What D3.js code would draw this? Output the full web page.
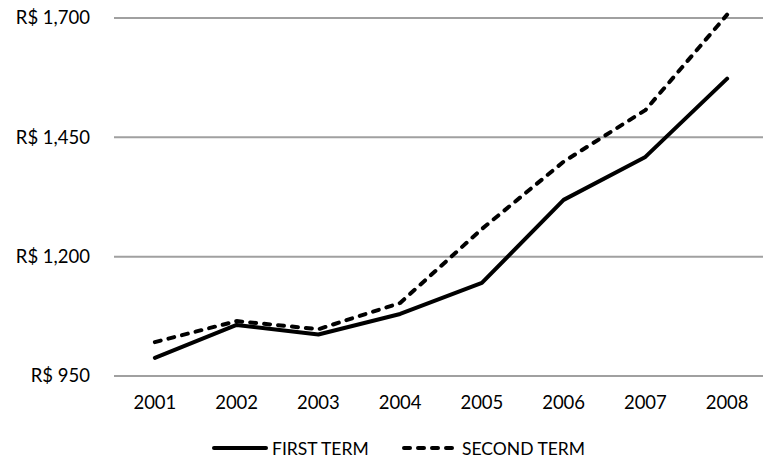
<!DOCTYPE html>
<html><head><meta charset="utf-8">
<script src="https://cdn.jsdelivr.net/npm/d3@7"></script>
<style>body{margin:0;background:#fff;} svg{display:block;font-family:Lato, "Open Sans", sans-serif;}</style>
</head><body>
<svg id="c" width="763" height="464"></svg>
<script>
const years = ["2001","2002","2003","2004","2005","2006","2007","2008"];
const firstTerm = [988, 1057, 1037, 1080, 1145, 1319, 1409, 1573];
const secondTerm = [1021, 1065, 1048, 1103, 1258, 1399, 1507, 1707];
const yTicks = [950, 1200, 1450, 1700];
const seriesNames = ["FIRST TERM", "SECOND TERM"];

const svg = d3.select("#c");
const x = d3.scaleBand().domain(years).range([114, 768]);
const y = d3.scaleLinear().domain([950, 1700]).range([376, 18]);
const fmt = v => "R$ " + d3.format(",")(v);

// gridlines
svg.append("g").selectAll("line").data(yTicks).join("line")
  .attr("x1", 114).attr("x2", 763)
  .attr("y1", d => y(d)).attr("y2", d => y(d))
  .attr("stroke", "#a0a0a0").attr("stroke-width", 2);

// y labels
svg.append("g").selectAll("text").data(yTicks).join("text")
  .attr("x", 90).attr("y", d => y(d)).attr("dy", "0.35em")
  .attr("text-anchor", "end").attr("font-size", 18.5).attr("fill", "#000")
  .text(fmt);

// x labels
svg.append("g").selectAll("text").data(years).join("text")
  .attr("x", d => x(d) + x.bandwidth()/2).attr("y", 403).attr("dy", "0.35em")
  .attr("text-anchor", "middle").attr("font-size", 18.5).attr("fill", "#000")
  .text(d => d);

const line = d3.line().x((d,i) => x(years[i]) + x.bandwidth()/2).y(d => y(d));

svg.append("path").datum(firstTerm).attr("d", line)
  .attr("fill", "none").attr("stroke", "#000").attr("stroke-width", 4)
  .attr("stroke-linecap", "round").attr("stroke-linejoin", "round");
svg.append("path").datum(secondTerm).attr("d", line)
  .attr("fill", "none").attr("stroke", "#000").attr("stroke-width", 4)
  .attr("stroke-linecap", "round").attr("stroke-linejoin", "round")
  .attr("stroke-dasharray", "6,8");

// legend
const lg = svg.append("g");
lg.append("line").attr("x1", 214).attr("x2", 266).attr("y1", 448).attr("y2", 448)
  .attr("stroke", "#000").attr("stroke-width", 4).attr("stroke-linecap", "round");
lg.append("text").attr("x", 272).attr("y", 448.5).attr("dy", "0.35em").attr("font-size", 17.5).text(seriesNames[0]);
lg.append("line").attr("x1", 404).attr("x2", 456).attr("y1", 448).attr("y2", 448)
  .attr("stroke", "#000").attr("stroke-width", 4).attr("stroke-linecap", "round")
  .attr("stroke-dasharray", "6,8");
lg.append("text").attr("x", 462).attr("y", 448.5).attr("dy", "0.35em").attr("font-size", 17.5).text(seriesNames[1]);
</script>
</body></html>
